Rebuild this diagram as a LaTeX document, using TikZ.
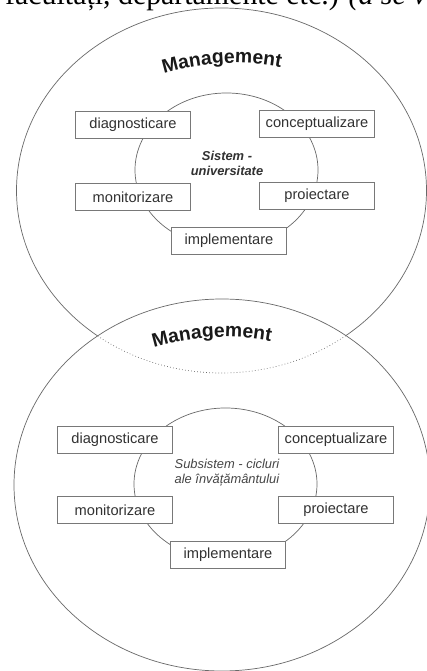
\documentclass[tikz,border=0pt]{standalone}
\usepackage{fontspec}
\setmainfont{Liberation Sans}
\newfontfamily\bookfont{Liberation Serif}
\usetikzlibrary{decorations.text}

\tikzset{
  ring/.style={draw=ringgray, line width=0.6pt},
  phasebox/.style={draw=boxgray, fill=white, line width=0.7pt, inner sep=0pt,
    minimum width=3.45cm, minimum height=0.8cm, text=textgray,
    font=\fontsize{12.5}{14}\selectfont},
  systext/.style={align=center, inner sep=0pt, font=\fontsize{11}{12.8}\selectfont\itshape},
}

\begin{document}
\begin{tikzpicture}[x=0.03cm, y=0.03cm]

		% Define colors
		\definecolor{ringgray}{RGB}{105, 105, 105}
		\definecolor{boxgray}{RGB}{120, 120, 120}
		\definecolor{textgray}{RGB}{50, 50, 50}
		\definecolor{subgray}{RGB}{70, 70, 70}
		\definecolor{mgmtcolor}{RGB}{25, 25, 25}

		\useasboundingbox[fill=white] (0,0) rectangle (427,671);

		% Line of the page above the figure (cut by the edge)
		\node[anchor=base west, inner sep=0pt, font=\bookfont\fontsize{25.5}{28}\selectfont] (booktext) at (5,666.5) {facultăți, departamente etc.) \textit{(a se ve}};

		% Draw the upper (Sistem) ellipse
		\draw[ring] (221.5,480.5) ellipse (205 and 182.5);

		% Draw the lower (Subsistem) ellipse over it, upper one dotted inside
		\fill[white, ring] (222,186) ellipse (208 and 186);
		\begin{scope}
			\clip (222,186) ellipse (208 and 186);
			\draw[ring, dotted] (221.5,480.5) ellipse (205 and 182.5);
		\end{scope}

		% Curved Management titles
		\path[decorate, decoration={text along path, text align=center, text color=mgmtcolor,
			text={|\fontsize{16.5}{18}\selectfont\bfseries|Management}}]
			(235,358) ++(118:250) arc[start angle=118, end angle=68, radius=250];
		\path[decorate, decoration={text along path, text align=center, text color=mgmtcolor,
			text={|\fontsize{16.5}{18}\selectfont\bfseries|Management}}]
			(225,84) ++(118:250) arc[start angle=118, end angle=68, radius=250];

		% Inner cycles
		\draw[ring] (226.5,501) ellipse (91.5 and 77);
		\draw[ring] (225.5,187) ellipse (91.5 and 76);

		% Upper cycle: Sistem - universitate
		\node[systext, font=\fontsize{11}{12.8}\selectfont\bfseries\itshape, text=textgray] (sys) at (227,508) {Sistem -\\universitate};
		\node[phasebox] (diagA) at (133,546) {diagnosticare};
		\node[phasebox] (concA) at (317,547) {conceptualizare};
		\node[phasebox] (moniA) at (133,474) {monitorizare};
		\node[phasebox] (proiA) at (317,475) {proiectare};
		\node[phasebox] (implA) at (229,430) {implementare};

		% Lower cycle: Subsistem - cicluri ale invatamantului
		\node[systext, text=subgray] (subsys) at (227,198) {Subsistem - cicluri\\ale învățământului};
		\node[phasebox] (diagB) at (115,231) {diagnosticare};
		\node[phasebox] (concB) at (336,231) {conceptualizare};
		\node[phasebox] (moniB) at (115,161) {monitorizare};
		\node[phasebox] (proiB) at (336,161) {proiectare};
		\node[phasebox] (implB) at (228,116) {implementare};
	\end{tikzpicture}
\end{document}
